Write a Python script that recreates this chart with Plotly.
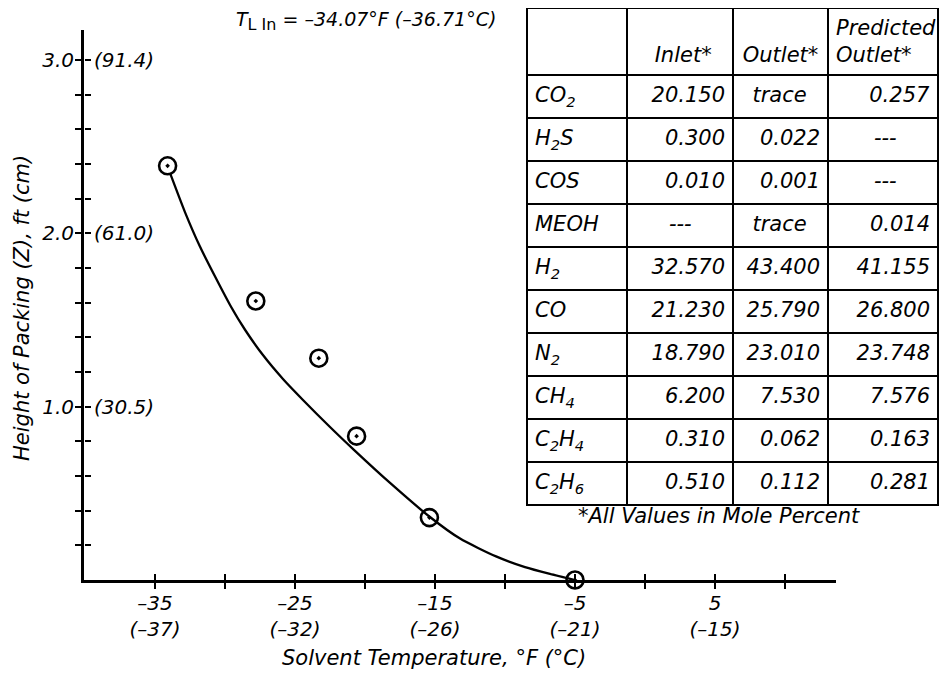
import plotly.graph_objects as go

# ---------------- data ----------------
temps_F = [-34.1, -27.8, -23.3, -20.6, -15.4, -5.0]
heights_ft = [2.39, 1.61, 1.28, 0.83, 0.36, 0.0]

curve_F = [-33.93, -32.86, -31.79, -30.71, -29.64, -28.57, -27.29, -25.86, -24.43, -22.50,
           -20.79, -18.21, -15.43, -13.21, -10.64, -8.57, -6.79, -5.0]
curve_ft = [2.349, 2.123, 1.924, 1.751, 1.587, 1.444, 1.298, 1.160, 1.039, 0.883,
            0.751, 0.560, 0.368, 0.239, 0.136, 0.074, 0.035, 0.0]

x_major = [-35, -25, -15, -5, 5]
x_major_c = ["(–37)", "(–32)", "(–26)", "(–21)", "(–15)"]
x_minor = [-30, -20, -10, 0, 10]
y_major = [1.0, 2.0, 3.0]
y_major_cm = ["(30.5)", "(61.0)", "(91.4)"]
y_minor = [0.2, 0.4, 0.6, 0.8, 1.2, 1.4, 1.6, 1.8, 2.2, 2.4, 2.6, 2.8]

components = ["CO<sub>2</sub>", "H<sub>2</sub>S", "COS", "MEOH", "H<sub>2</sub>", "CO",
              "N<sub>2</sub>", "CH<sub>4</sub>", "C<sub>2</sub>H<sub>4</sub>", "C<sub>2</sub>H<sub>6</sub>"]
inlet = ["20.150", "0.300", "0.010", "---", "32.570", "21.230", "18.790", "6.200", "0.310", "0.510"]
outlet = ["trace", "0.022", "0.001", "trace", "43.400", "25.790", "23.010", "7.530", "0.062", "0.112"]
predicted = ["0.257", "---", "---", "0.014", "41.155", "26.800", "23.748", "7.576", "0.163", "0.281"]
headers = ["", "Inlet*", "Outlet*", "Predicted<br>Outlet*"]

FONT = "DejaVu Sans"
FS = 20
TFS = 21
OFF = 8                      # page body margin
FW, FH = 952 - OFF, 673 - OFF

def PX(x):                   # reference pixel -> paper fraction
    return (x - OFF) / FW

def PY(y):
    return 1 - (y - OFF) / FH

def it(s):
    return "<i>" + s + "</i>"

def cell(v, pad_trace, pad_dash):
    # non-numeric entries sit centred in the original; approximate with trailing spaces
    if v == "trace":
        return it(v) + "&nbsp;" * pad_trace
    if v == "---":
        return it(v) + "&nbsp;" * pad_dash
    return it(v)

# ---------------- figure ----------------
fig = go.Figure()

fig.add_trace(go.Scatter(
    x=curve_F, y=curve_ft, mode="lines",
    line=dict(color="black", width=2.3, shape="spline", smoothing=0.6),
    hoverinfo="skip", showlegend=False, cliponaxis=False))

fig.add_trace(go.Scatter(
    x=temps_F, y=heights_ft, mode="markers",
    marker=dict(symbol="circle-open-dot", size=17, color="black", line=dict(width=2.6, color="black")),
    showlegend=False, cliponaxis=False))

hdr_vals = [[""],
            ["&nbsp;<br>" + it(headers[1]) + "&nbsp;&nbsp;"],
            ["&nbsp;<br>" + it(headers[2])],
            [it(headers[3])]]
cell_vals = [[it(c) for c in components],
             [cell(v, 2, 5) for v in inlet],
             [cell(v, 2, 5) for v in outlet],
             [cell(v, 3, 5) for v in predicted]]

fig.add_trace(go.Table(
    domain=dict(x=[PX(527), PX(938)], y=[PY(580), PY(8)]),
    columnwidth=[100, 106, 95, 110],
    header=dict(values=hdr_vals, height=62, align=["left", "right", "center", "left"],
                line=dict(color="black", width=2), fill=dict(color="white"),
                font=dict(family=FONT, size=TFS, color="black")),
    cells=dict(values=cell_vals, height=43, align=["left", "right", "right", "right"],
               line=dict(color="black", width=2), fill=dict(color="white"),
               font=dict(family=FONT, size=TFS, color="black")),
))

xdom = [PX(84), PX(836)]
ydom = [PY(580), PY(30)]
xr = [-35 - 71 / 14, -35 + 681 / 14]
yr = [0, 550 / 173.3]

tick_common = dict(showgrid=False, zeroline=False, tickcolor="black", tickwidth=2, ticklen=6)
minor_y = dict(tickvals=y_minor, ticks="outside", ticklen=6, tickwidth=2, tickcolor="black")

fig.update_layout(
    width=FW, height=FH,
    margin=dict(l=0, r=0, t=0, b=0),
    paper_bgcolor="white", plot_bgcolor="white",
    font=dict(family=FONT, size=FS, color="black"),
    showlegend=False,
    xaxis=dict(domain=xdom, range=xr, anchor="y", showline=True, linewidth=3, linecolor="black",
               tickmode="array", tickvals=x_major,
               ticktext=[it(f"{v}".replace("-", "–")) + "<br>" + it(c) for v, c in zip(x_major, x_major_c)],
               ticks="outside", ticklabelstandoff=-3,
               minor=dict(tickvals=x_minor, ticks="outside", ticklen=6, tickwidth=2, tickcolor="black"),
               tickfont=dict(family=FONT, size=FS), **tick_common),
    xaxis2=dict(overlaying="x", range=xr, anchor="free", position=ydom[0], side="top",
                showline=False, tickmode="array", tickvals=x_major + x_minor, ticks="outside",
                showticklabels=False, **tick_common),
    yaxis=dict(domain=ydom, range=yr, anchor="x", showline=True, linewidth=3, linecolor="black",
               tickmode="array", tickvals=y_major, ticktext=[it(f"{v:.1f}") for v in y_major],
               ticks="outside", ticklabelstandoff=-3, minor=minor_y,
               tickfont=dict(family=FONT, size=FS), **tick_common),
    yaxis2=dict(overlaying="y", range=yr, anchor="free", position=xdom[0], side="right",
                showline=False, tickmode="array", tickvals=y_major, ticktext=[it(c) for c in y_major_cm],
                ticks="outside", ticklabelstandoff=-1, minor=minor_y,
                tickfont=dict(family=FONT, size=FS), **tick_common),
)

# invisible trace to activate the overlay axes
fig.add_trace(go.Scatter(x=[None], y=[None], xaxis="x2", yaxis="y2", showlegend=False, hoverinfo="skip"))

ann = dict(xref="paper", yref="paper", showarrow=False, xanchor="center", yanchor="middle")
fig.add_annotation(x=PX(366), y=PY(21),
                   text="<i>T</i><sub><span style='font-size:16px'>L In</span></sub> = " + it("–34.07°F (–36.71°C)"),
                   font=dict(family=FONT, size=19), **ann)
fig.add_annotation(x=PX(434), y=PY(658), text=it("Solvent Temperature, °F (°C)"),
                   font=dict(family=FONT, size=TFS), **ann)
fig.add_annotation(x=PX(22), y=PY(308), textangle=-90, text=it("Height of Packing (Z), ft (cm)"),
                   font=dict(family=FONT, size=TFS), **ann)
fig.add_annotation(x=PX(719), y=PY(516), text=it("*All Values in Mole Percent"),
                   font=dict(family=FONT, size=TFS), **ann)

fig.write_html("out.html")
